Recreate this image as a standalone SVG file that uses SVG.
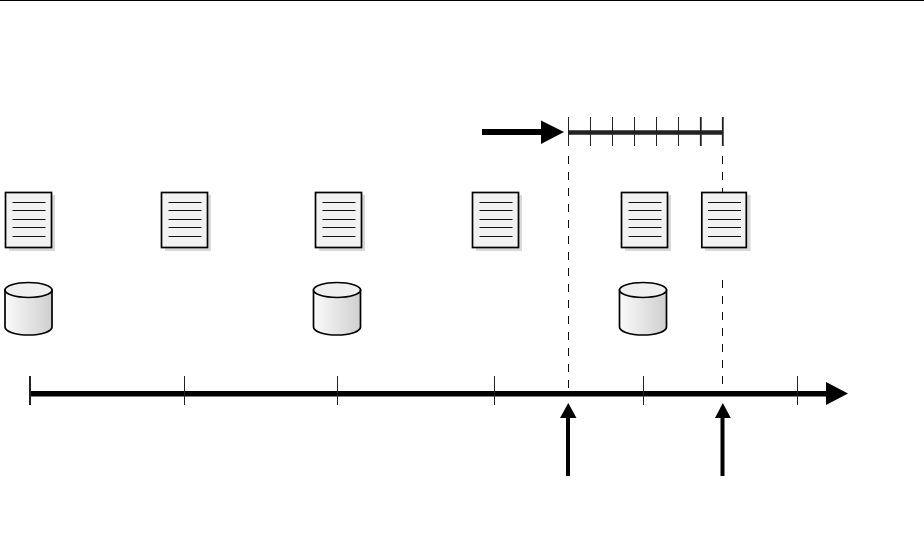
<svg xmlns="http://www.w3.org/2000/svg" width="924" height="550" viewBox="0 0 924 550">
<style>
.t{stroke:#222;stroke-width:1;fill:none}
.d{stroke:#111;stroke-width:1;stroke-dasharray:8 8;fill:none}
.sh{fill:#d9d9d9}
.pg{fill:#f2f2f2;stroke:#000;stroke-width:1.7}
.ln{stroke:#111;stroke-width:1.200;fill:none}
.cy{fill:url(#g);stroke:#000;stroke-width:1.700}
.cyt{fill:#efefef;stroke:#000;stroke-width:1.700}
</style>
<defs>
<linearGradient id="g" x1="0" x2="1" y1="0" y2="0"><stop offset="0" stop-color="#fafafa"/><stop offset="1" stop-color="#cfcfcf"/></linearGradient>
<g id="doc">
<rect class="sh" x="4" y="3" width="46" height="56"/>
<rect class="pg" x="0.500" y="0.500" width="46" height="55"/>
<path class="ln" d="M7.500 10.500H40.500M7.500 18.500H40.500M7.500 27.500H40.500M7.500 35.500H40.500M7.500 44.500H40.500"/>
</g>
<g id="cyl">
<path class="cy" d="M0.500 8V45C0.500 49.500 11 53 24 53S47.500 49.500 47.500 45V8Z"/>
<ellipse class="cyt" cx="24" cy="8" rx="23.500" ry="7.500"/>
</g>
</defs>
<rect width="924" height="550" fill="#fff"/>
<path d="M0 0.500H924" stroke="#000" stroke-width="1"/>
<g id="connectors">
<path class="d" d="M568.500 156V388"/>
<path class="d" d="M722.500 156V192"/>
<path class="d" d="M722.500 280V384"/>
<path d="M482 132H543" stroke="#000" stroke-width="6" fill="none"/>
<path d="M541 120.500L564 132L541 144Z" fill="#000"/>
<path d="M568 132.500H723" stroke="#222" stroke-width="4.500" fill="none"/>
<path class="t" d="M568.500 117V146M590.500 117V146M612.500 117V146M634.500 117V146M656.500 117V146M678.500 117V146"/>
<path d="M700.800 117V146M722.800 117V146" stroke="#222" stroke-width="1.800" fill="none"/>
<path d="M31 393.700H828" stroke="#000" stroke-width="5.500" fill="none"/>
<path d="M826 382L848 393.500L826 405Z" fill="#000"/>
<path d="M30 376V405" stroke="#222" stroke-width="2" fill="none"/>
<path class="t" d="M184.500 376V405M337.500 376V405M494.500 376V405M643.500 376V405M797.500 376V405"/>
<path d="M568 476V416" stroke="#000" stroke-width="4" fill="none"/>
<path d="M560 418L568.300 403L576.500 418Z" fill="#000"/>
<path d="M722.500 476V416" stroke="#000" stroke-width="4" fill="none"/>
<path d="M715 418L722.800 403L730.800 418Z" fill="#000"/>
</g>
<g id="doc1"><use href="#doc" x="5" y="192"/></g>
<g id="doc2"><use href="#doc" x="161" y="192"/></g>
<g id="doc3"><use href="#doc" x="315" y="192"/></g>
<g id="doc4"><use href="#doc" x="472" y="192"/></g>
<g id="doc5"><use href="#doc" x="621" y="192"/></g>
<g id="doc6">
<rect class="sh" x="705" y="195" width="45.500" height="56"/>
<rect class="pg" x="701.800" y="192.500" width="44.500" height="55"/>
<path class="ln" d="M708 202.500H741M708 210.500H741M708 219.500H741M708 227.500H741M708 236.500H741"/>
</g>
<g id="db1"><use href="#cyl" x="4.500" y="282"/></g>
<g id="db2"><use href="#cyl" x="313" y="282"/></g>
<g id="db3"><use href="#cyl" x="619" y="282"/></g>
</svg>
